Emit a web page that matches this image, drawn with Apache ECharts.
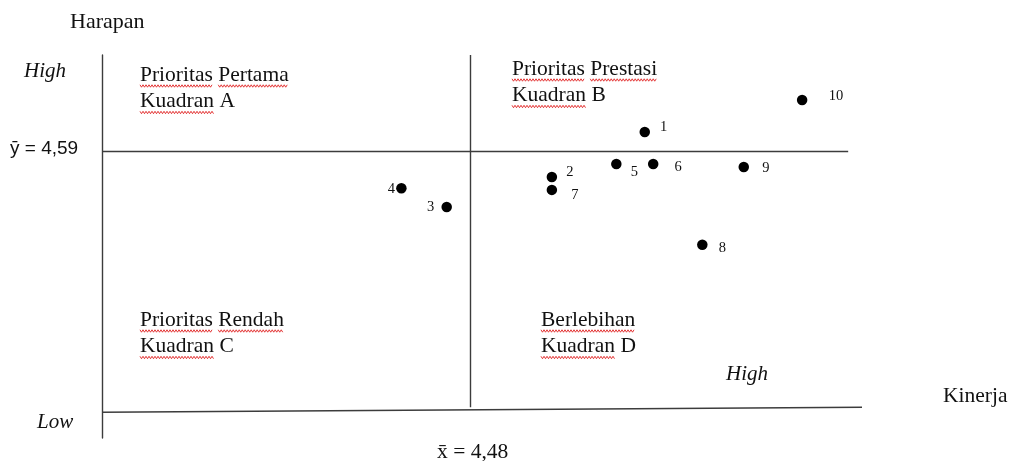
<!DOCTYPE html>
<html>
<head>
<meta charset="utf-8">
<script src="https://cdn.jsdelivr.net/npm/echarts@6/dist/echarts.min.js"></script>
<style>
html,body{margin:0;padding:0;background:#fff;}
#chart{width:1012px;height:461px;}
</style>
</head>
<body>
<div id="chart"></div>
<script>
// ---- data ----
var itemIds = ['1','2','3','4','5','6','7','8','9','10'];
var kinerja = [4.707, 4.586, 4.449, 4.390, 4.670, 4.718, 4.586, 4.782, 4.836, 4.912];
var harapan = [4.635, 4.527, 4.455, 4.500, 4.558, 4.558, 4.496, 4.364, 4.551, 4.712];
var meanKinerja = 4.48;
var meanHarapan = 4.59;
var meanKinerjaText = 'x\u0304 = 4,48';
var meanHarapanText = '\u0233 = 4,59';
var axisNameY = 'Harapan';
var axisNameX = 'Kinerja';
var quadrantA = ['Prioritas Pertama', 'Kuadran A'];
var quadrantB = ['Prioritas Prestasi', 'Kuadran B'];
var quadrantC = ['Prioritas Rendah', 'Kuadran C'];
var quadrantD = ['Berlebihan', 'Kuadran D'];

// ---- layout / style ----
var X_MIN = 4.0, X_MAX = 4.99, Y_MIN = 3.9, Y_MAX = 4.82;
var X_LINE_Y = [3.962, 3.974];   // slightly tilted base line
var H_MEAN_END = 4.972;
var labelOffsets = [[19,-5],[18,-5],[-16,0],[-10,1],[18,8],[25,3],[23,5],[20,3],[22,1],[34,-4]];
var LINE = '#3c3c3c';
var SERIF = '"Liberation Serif","Times New Roman",serif';
var SANS = '"Liberation Sans",Arial,sans-serif';

var points = itemIds.map(function (id, i) {
  return {
    name: id,
    value: [kinerja[i], harapan[i]],
    label: { offset: labelOffsets[i] }
  };
});

var measCtx = document.createElement('canvas').getContext('2d');
function textW(t, font) { measCtx.font = font; return measCtx.measureText(t).width; }

var graphics = [];
function addText(t, x, y, font, align) {
  graphics.push({
    type: 'text', x: x, y: y, silent: true,
    style: { text: t, font: font, fill: '#111', align: align || 'left', verticalAlign: 'middle',
             textAlign: align || 'left', textVerticalAlign: 'middle' }
  });
}
function wavy(x0, x1, y) {
  var pts = [], k = 0;
  for (var x = x0; x <= x1; x += 1.5) { pts.push([x, y + ((k % 2) ? 1.2 : -1.2)]); k++; }
  graphics.push({ type: 'polyline', silent: true, shape: { points: pts },
    style: { stroke: '#e02020', lineWidth: 0.9, fill: null } });
}
var QFONT = '21.5px ' + SERIF;
function addQuadrant(lines, x, y) {
  lines.forEach(function (ln, li) {
    var ly = y + li * 26.5;
    addText(ln, x, ly, QFONT);
    var words = ln.split(' '), cx = x;
    words.forEach(function (w, wi) {
      var ww = textW(w, QFONT);
      if (w.length > 1) wavy(cx, cx + ww, ly + 11);
      cx += ww + textW(' ', QFONT);
    });
  });
}
addQuadrant(quadrantA, 140, 75);
addQuadrant(quadrantB, 512, 69);
addQuadrant(quadrantC, 140, 320);
addQuadrant(quadrantD, 541, 320);
addText(axisNameY, 70, 22, '22px ' + SERIF);
addText(axisNameX, 943, 396, '21.5px ' + SERIF);
addText('High', 24, 71, 'italic 21px ' + SERIF);
addText('High', 726, 374, 'italic 21px ' + SERIF);
addText('Low', 37, 422, 'italic 21px ' + SERIF);
addText(meanHarapanText, 10, 149, '19px ' + SANS);
addText(meanKinerjaText, 437, 452, '21.5px ' + SERIF);

var chart = echarts.init(document.getElementById('chart'), null, { renderer: 'canvas' });
chart.setOption({
  animation: false,
  backgroundColor: '#fff',
  grid: { left: 102, right: 150, top: 55, bottom: 23 },
  xAxis: {
    type: 'value', min: X_MIN, max: X_MAX,
    axisLine: { show: false }, axisTick: { show: false }, axisLabel: { show: false }, splitLine: { show: false }
  },
  yAxis: {
    type: 'value', min: Y_MIN, max: Y_MAX,
    axisLine: { show: true, lineStyle: { color: LINE, width: 1.4 } },
    axisTick: { show: false }, axisLabel: { show: false }, splitLine: { show: false }
  },
  series: [{
    type: 'scatter',
    data: points,
    symbol: 'circle',
    symbolSize: 10.5,
    itemStyle: { color: '#000', opacity: 1 },
    label: {
      show: true, position: 'inside', color: '#111',
      fontFamily: SERIF, fontSize: 14.5,
      formatter: function (p) { return p.name; }
    },
    markLine: {
      silent: true, symbol: 'none', animation: false,
      label: { show: false },
      lineStyle: { color: LINE, width: 1.4, type: 'solid', opacity: 1 },
      data: [
        [{ coord: [X_MIN, X_LINE_Y[0]] }, { coord: [X_MAX, X_LINE_Y[1]] }],
        [{ coord: [X_MIN, meanHarapan] }, { coord: [H_MEAN_END, meanHarapan] }],
        [{ coord: [meanKinerja, Y_MAX] }, { coord: [meanKinerja, X_LINE_Y[1]] }]
      ]
    }
  }],
  graphic: graphics
});
</script>
</body>
</html>
